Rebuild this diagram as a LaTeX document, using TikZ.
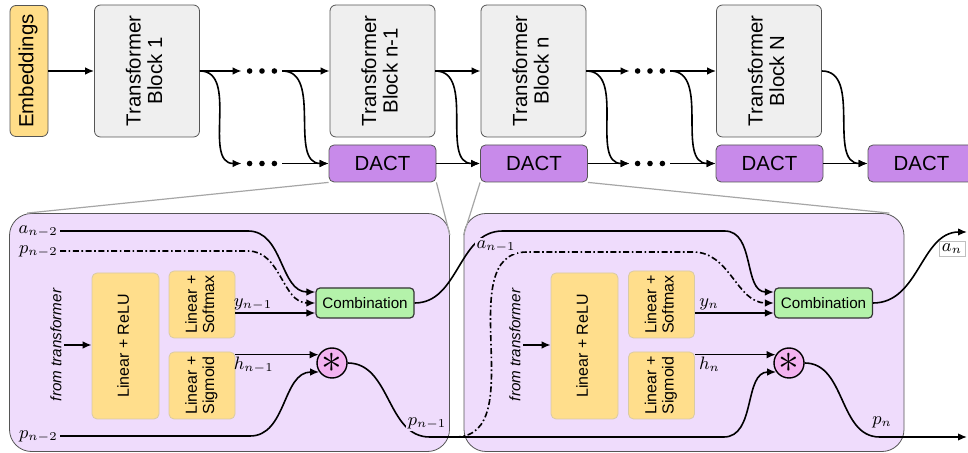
\documentclass[tikz,border=0pt]{standalone}
\usepackage[no-math]{fontspec}
\setmainfont{Liberation Sans}
\usepackage{graphicx}
\usetikzlibrary{calc,arrows.meta}

\definecolor{embfill}{RGB}{255,221,136}
\definecolor{blkfill}{RGB}{239,239,239}
\definecolor{dactfill}{RGB}{200,138,234}
\definecolor{panfill}{RGB}{239,220,252}
\definecolor{ffnfill}{RGB}{255,222,140}
\definecolor{combfill}{RGB}{180,242,170}
\definecolor{mulfill}{RGB}{243,178,240}
\definecolor{rim}{RGB}{85,85,85}

\newcommand{\vtext}[1]{\rotatebox{90}{\begin{tabular}{@{}c@{}}#1\end{tabular}}}

\tikzset{ blk/.style = { rectangle % transformer block
        , rounded corners = 3pt
        , draw = rim
        , fill = blkfill
        , minimum width = 52.5pt
        , minimum height = 66pt
        , inner sep = 0pt
        , font = \fontsize{10.2}{10.8}\selectfont
        }
        , emb/.style = { blk % embeddings
        , fill = embfill
        , minimum width = 19pt
        , minimum height = 65.5pt
        }
        , dact/.style = { blk % dact unit
        , fill = dactfill
        , minimum width = 53.5pt
        , minimum height = 18.5pt
        , rounded corners = 2.5pt
        }
        , pan/.style = { rectangle % zoomed dact
        , rounded corners = 11pt
        , draw = rim
        , fill = panfill
        , minimum width = 220pt
        , minimum height = 119pt
        }
        , ffn/.style = { rectangle % linear layers
        , rounded corners = 2.5pt
        , draw = ffnfill!75!black!60
        , fill = ffnfill
        , minimum width = 33.5pt
        , minimum height = 73pt
        , inner sep = 0pt
        , font = \fontsize{8}{8.6}\selectfont
        }
        , head/.style = { ffn % softmax / sigmoid head
        , minimum width = 33pt
        , minimum height = 33.5pt
        }
        , comb/.style = { rectangle % combination
        , rounded corners = 2pt
        , draw = black!80
        , line width = 0.6pt
        , fill = combfill
        , minimum width = 49pt
        , minimum height = 15pt
        , inner sep = 0pt
        , font = \fontsize{7.6}{8}\selectfont
        }
        , mul/.style = { circle % product
        , draw = black
        , line width = 0.7pt
        , fill = mulfill
        , minimum size = 15pt
        , inner sep = 0pt
        , font = \fontsize{20}{20}\selectfont
        }
        , ft/.style = { inner sep = 1pt % from transformer
        , font = \fontsize{7.6}{8}\selectfont\itshape
        }
        , dotrow/.style = { minimum width = 20pt % three dots
        , minimum height = 4pt
        , inner sep = 0pt
        , path picture = { \foreach \k in {-1,0,1}
                { \fill ($(path picture bounding box.center)+(\k*6.2pt,0)$) circle (1.4pt); } }
        }
        }

\begin{document}
\begin{tikzpicture}[x=0.5pt, y=-0.5pt, >={Latex[length=4.5pt,width=3.8pt]},
        edge_style/.style={draw=black, line width=0.8pt, ->},
        dashdot_style/.style={draw=black, line width=0.8pt, ->, dash pattern=on 3pt off 1.3pt on 0.8pt off 1.3pt},
        zoom_style/.style={draw=gray!70, line width=0.6pt},
        label_style/.style={inner sep=1pt, font=\fontsize{9}{10}\selectfont},
        tag_style/.style={label_style, fill=panfill}]
        \useasboundingbox (0,0) rectangle (968,453);

        % transformer stack
        \node [emb] (emb) at (29,71) {\vtext{Embeddings}};
        \node [blk] (blk1) at (147,71) {\vtext{Transformer\\Block 1}};
        \node [blk] (blkn1) at (382.5,71) {\vtext{Transformer\\Block n-1}};
        \node [blk] (blkn) at (533.5,71) {\vtext{Transformer\\Block n}};
        \node [blk] (blkN) at (769,71) {\vtext{Transformer\\Block N}};
        \node [dact] (dact1) at (382.5,163.5) {DACT};
        \node [dact] (dactn) at (534,163.5) {DACT};
        \node [dact] (dactN) at (769.5,163.5) {DACT};
        \node [dact] (dactF) at (921.5,163.5) {DACT};
        \node [dotrow] (dotsA) at (262,71) {};
        \node [dotrow] (dotsB) at (262,163.5) {};
        \node [dotrow] (dotsC) at (650,71) {};
        \node [dotrow] (dotsD) at (650,163.5) {};

        \draw [edge_style] (emb.east) -- (blk1.west);
        \draw [edge_style] (blk1.east) -- (dotsA.west);
        \draw [edge_style] (blk1.east) to[out=0,in=180] (dotsB.west);
        \draw [edge_style] (dotsA.east) -- (blkn1.west);
        \draw [edge_style] (dotsA.east) to[out=0,in=180] (dact1.west);
        \draw [edge_style] (dotsB.east) -- (dact1.west);
        \draw [edge_style] (blkn1.east) -- (blkn.west);
        \draw [edge_style] (blkn1.east) to[out=0,in=180] (dactn.west);
        \draw [edge_style] (dact1.east) -- (dactn.west);
        \draw [edge_style] (blkn.east) -- (dotsC.west);
        \draw [edge_style] (blkn.east) to[out=0,in=180] (dotsD.west);
        \draw [edge_style] (dactn.east) -- (dotsD.west);
        \draw [edge_style] (dotsC.east) -- (blkN.west);
        \draw [edge_style] (dotsC.east) to[out=0,in=180] (dactN.west);
        \draw [edge_style] (dotsD.east) -- (dactN.west);
        \draw [edge_style] (blkN.east) to[out=0,in=180] (dactF.west);
        \draw [edge_style] (dactN.east) -- (dactF.west);

        % zoomed dact units
        \node [pan] (pan1) at (229.5,332.5) {};
        \node [pan] (pan2) at (684,332.5) {};
        \draw [zoom_style] (dact1.south west) -- ($(pan1.north west)+(18,0)$);
        \draw [zoom_style] (dact1.south east) -- ($(pan1.north east)+(0,22)$);
        \draw [zoom_style] (dactn.south west) -- ($(pan2.north west)+(0,22)$);
        \draw [zoom_style] (dactn.south east) -- ($(pan2.north east)+(-15,0)$);

        % unit n-1
        \node [ft] (ft1) at (56,345) {\rotatebox{90}{from transformer}};
        \node [ffn] (relu1) at (125.5,346) {\vtext{Linear + ReLU}};
        \node [head] (smax1) at (202,304.5) {\vtext{Linear +\\Softmax}};
        \node [head] (sigm1) at (202,385.5) {\vtext{Linear +\\Sigmoid}};
        \node [comb] (comb1) at (365,303) {Combination};
        \node [mul] (mul1) at (332,363) {$\ast$};
        \node [label_style, anchor=east] (an2) at (60,231) {$a_{n-2}$};
        \node [label_style, anchor=east] (pn2t) at (60,251) {$p_{n-2}$};
        \node [label_style, anchor=east] (pn2b) at (60,436) {$p_{n-2}$};
        \coordinate (c1y) at ($(comb1.west)+(0,10)$);

        \draw [edge_style] (ft1.east) -- (ft1.east -| relu1.west);
        \draw [edge_style] (an2.east) -- ++(188,0) to[out=0,in=180] ($(comb1.west)+(0,-11)$);
        \draw [dashdot_style] (pn2t.east) -- ++(188,0) to[out=0,in=180] (comb1.west);
        \draw [edge_style] (smax1.east |- c1y) -- node[label_style, pos=0.22, above] {$y_{n-1}$} (c1y);
        \draw [edge_style] (sigm1.east |- mul1.148) -- node[label_style, pos=0.22, below] {$h_{n-1}$} (mul1.148);
        \draw [edge_style] (pn2b.east) -- ++(190,0) to[out=0,in=180] (mul1.215);

        % unit n
        \node [ft] (ft2) at (515,345) {\rotatebox{90}{from transformer}};
        \node [ffn] (relu2) at (584.5,346) {\vtext{Linear + ReLU}};
        \node [head] (smax2) at (661.5,304.5) {\vtext{Linear +\\Softmax}};
        \node [head] (sigm2) at (661.5,385.5) {\vtext{Linear +\\Sigmoid}};
        \node [comb] (comb2) at (823.5,303) {Combination};
        \node [mul] (mul2) at (789,363) {$\ast$};
        \coordinate (c2y) at ($(comb2.west)+(0,10)$);
        \coordinate (pbr) at (455,437);
        \coordinate (aout) at (967,232);
        \coordinate (pout) at (967,437);

        \draw [edge_style] (ft2.east) -- (ft2.east -| relu2.west);
        \draw [edge_style] (smax2.east |- c2y) -- node[label_style, pos=0.18, above] {$y_n$} (c2y);
        \draw [edge_style] (sigm2.east |- mul2.148) -- node[label_style, pos=0.18, below] {$h_n$} (mul2.148);

        % links between the units
        \draw [edge_style] (mul1.east) to[out=0,in=180] ++(82,74) -- ++(294,0) to[out=0,in=180] (mul2.215);
        \draw [dashdot_style] (pbr) to[out=0,in=180] ++(72,-185) -- ++(166,0) to[out=0,in=180] (comb2.west);
        \draw [edge_style] (comb1.east) to[out=0,in=180] ++(88,-72) -- ++(222,0) to[out=0,in=180] ($(comb2.west)+(0,-11)$);
        \draw [edge_style] (comb2.east) to[out=0,in=180] (aout);
        \draw [edge_style] (mul2.east) to[out=0,in=180] ++(75,74) -- (pout);
        \node [tag_style] (pnm1) at (427,423) {$p_{n-1}$};
        \node [tag_style] (anm1) at (496,246) {$a_{n-1}$};
        \node [tag_style] (pnl) at (882,422) {$p_n$};
        \node [label_style, draw=gray!50, fill=white, inner sep=1.5pt] (anl) at (952,249) {$a_n$};
\end{tikzpicture}
\end{document}
